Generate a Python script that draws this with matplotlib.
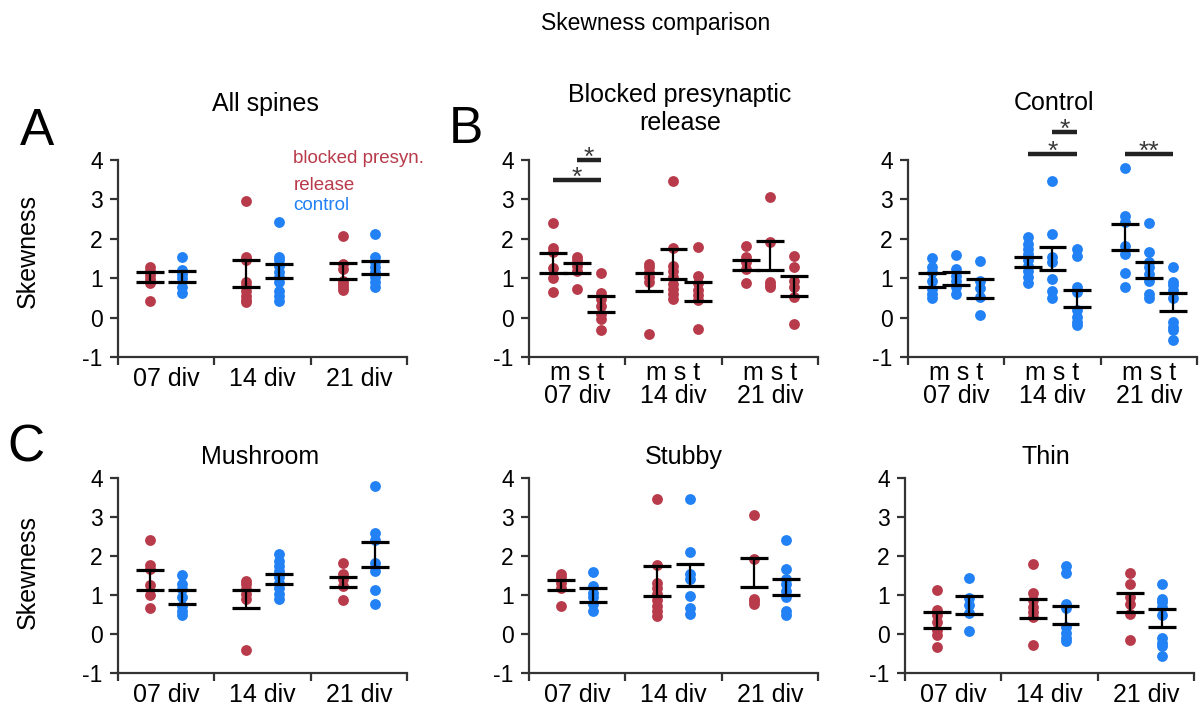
import matplotlib.pyplot as plt

plt.rcParams['font.family'] = ['Liberation Sans', 'DejaVu Sans']
plt.rcParams['axes.unicode_minus'] = False

RED = '#B83B4B'
BLUE = '#2181F5'
AXIS = '#333333'

divs = ['07 div', '14 div', '21 div']
div_mst = ['m s t\n07 div', 'm s t\n14 div', 'm s t\n21 div']

# all spines: one list of cultures per div
all_blocked = [[1.28, 1.18, 1.08, 0.98, 0.88, 0.43],
               [2.96, 1.53, 1.45, 0.9, 0.81, 0.68, 0.56, 0.45, 0.39],
               [2.07, 1.37, 1.24, 0.94, 0.86, 0.77, 0.69]]
all_blocked_mean = [1.025, 1.11, 1.175]
all_blocked_sem = [0.125, 0.34, 0.205]
all_control = [[1.53, 1.2, 1.1, 1.0, 0.78, 0.62],
               [2.43, 1.53, 1.45, 1.32, 1.15, 1.03, 0.9, 0.68, 0.56, 0.43],
               [2.13, 1.54, 1.41, 1.28, 1.15, 1.03, 0.9, 0.77]]
all_control_mean = [1.04, 1.185, 1.27]
all_control_sem = [0.14, 0.185, 0.16]

# blocked presynaptic release, per spine type (mushroom / stubby / thin)
blocked_m = [[2.41, 1.76, 1.67, 1.25, 1.0, 0.66],
             [1.37, 1.28, 1.15, 1.03, 0.9, -0.41],
             [1.81, 1.55, 1.42, 1.24, 0.87]]
blocked_m_mean = [1.385, 0.91, 1.34]
blocked_m_sem = [0.255, 0.23, 0.13]
blocked_s = [[1.53, 1.45, 1.3, 1.18, 0.72],
             [3.47, 1.76, 1.3, 1.18, 1.03, 0.86, 0.72, 0.6, 0.47],
             [3.05, 1.92, 0.9, 0.84, 0.78]]
blocked_s_mean = [1.26, 1.36, 1.58]
blocked_s_sem = [0.12, 0.38, 0.37]
blocked_t = [[1.12, 0.62, 0.48, 0.3, 0.1, -0.03, -0.32],
             [1.79, 1.06, 0.87, 0.7, 0.57, 0.44, -0.28],
             [1.57, 1.28, 0.94, 0.78, 0.52, -0.16]]
blocked_t_mean = [0.355, 0.665, 0.81]
blocked_t_sem = [0.205, 0.245, 0.25]

# control, per spine type
control_m = [[1.51, 1.28, 1.15, 0.94, 0.72, 0.6, 0.5],
             [2.04, 1.87, 1.74, 1.62, 1.45, 1.32, 1.19, 1.02, 0.89],
             [3.8, 2.58, 2.42, 1.82, 1.62, 1.12, 0.78]]
control_m_mean = [0.955, 1.42, 2.04]
control_m_sem = [0.175, 0.13, 0.33]
control_s = [[1.6, 1.23, 1.06, 0.94, 0.77, 0.6],
             [3.47, 2.11, 1.53, 1.4, 0.98, 0.68, 0.51],
             [2.4, 1.66, 1.4, 1.28, 1.11, 0.94, 0.6, 0.5]]
control_s_mean = [1.0, 1.51, 1.21]
control_s_sem = [0.17, 0.29, 0.21]
control_t = [[1.43, 0.92, 0.75, 0.53, 0.07],
             [1.75, 1.56, 0.78, 0.66, 0.19, 0.02, -0.1, -0.18],
             [1.28, 0.91, 0.83, 0.7, 0.49, -0.1, -0.23, -0.31, -0.57]]
control_t_mean = [0.74, 0.49, 0.40]
control_t_sem = [0.23, 0.22, 0.23]

HALF = 0.145


def style_axes(ax, labels, label_pad):
    ax.set_xlim(0, 3)
    ax.set_ylim(-1, 4)
    ax.spines[['top', 'right']].set_visible(False)
    for side in ('left', 'bottom'):
        ax.spines[side].set_color(AXIS)
        ax.spines[side].set_linewidth(1.6)
    ax.set_yticks(range(-1, 5))
    ax.set_xticks([0, 1, 2, 3])
    ax.set_xticklabels([])
    ax.set_xticks([0.5, 1.5, 2.5], minor=True)
    ax.set_xticklabels(labels, minor=True)
    ax.tick_params(axis='both', which='major', length=6, width=1.6, color=AXIS)
    ax.tick_params(axis='y', labelsize=16.5, pad=5)
    ax.tick_params(axis='x', which='minor', length=0, labelsize=18, pad=label_pad)
    for lbl in ax.get_xticklabels(minor=True):
        lbl.set_linespacing(0.92)


def draw_group(ax, x, vals, mean, sem, color):
    ax.plot([x] * len(vals), vals, 'o', ms=7.8, color=color, mec='none', zorder=2)
    ax.hlines([mean - sem, mean + sem], x - HALF, x + HALF, color='black', lw=2.3, zorder=3)
    ax.vlines(x, mean - sem, mean + sem, color='black', lw=1.6, zorder=3)


def sig_bar(ax, x0, x1, y, stars):
    ax.plot([x0, x1], [y, y], color='#222222', lw=3.2, solid_capstyle='butt', clip_on=False)
    ax.annotate(stars, ((x0 + x1) / 2, y), xytext=(0, -3.5), textcoords='offset points',
                ha='center', va='baseline', fontsize=19, color='#3a3a3a', annotation_clip=False)


fig = plt.figure(figsize=(12.02, 7.15), dpi=100)

left_cols = [0.0982, 0.4401, 0.7554]
top_b, top_h = 0.5007, 0.2755
bot_b, bot_h = 0.0587, 0.2727
W = 0.2404

# A: all spines
axA = fig.add_axes([left_cols[0], top_b, W, top_h])
style_axes(axA, divs, 7)
for i in range(3):
    draw_group(axA, i + 1 / 3, all_blocked[i], all_blocked_mean[i], all_blocked_sem[i], RED)
    draw_group(axA, i + 2 / 3, all_control[i], all_control_mean[i], all_control_sem[i], BLUE)
axA.text(1.82, 3.92, 'blocked presyn.', color=RED, fontsize=13.5)
axA.text(1.82, 3.23, 'release', color=RED, fontsize=13.5)
axA.text(1.82, 2.72, 'control', color=BLUE, fontsize=13.5)

# B: per spine type within each condition
axB = fig.add_axes([left_cols[1], top_b, W, top_h])
axCtl = fig.add_axes([left_cols[2], top_b, W, top_h])
for ax in (axB, axCtl):
    style_axes(ax, div_mst, 3)

blocked_sets = [(blocked_m, blocked_m_mean, blocked_m_sem),
                (blocked_s, blocked_s_mean, blocked_s_sem),
                (blocked_t, blocked_t_mean, blocked_t_sem)]
control_sets = [(control_m, control_m_mean, control_m_sem),
                (control_s, control_s_mean, control_s_sem),
                (control_t, control_t_mean, control_t_sem)]

for k, offset in enumerate([0.25, 0.5, 0.75]):
    vals, mean, sem = blocked_sets[k]
    for i in range(3):
        draw_group(axB, i + offset, vals[i], mean[i], sem[i], RED)
    vals, mean, sem = control_sets[k]
    for i in range(3):
        draw_group(axCtl, i + offset, vals[i], mean[i], sem[i], BLUE)

sig_bar(axB, 0.25, 0.75, 3.49, '*')
sig_bar(axB, 0.5, 0.75, 4.0, '*')
sig_bar(axCtl, 1.25, 1.75, 4.15, '*')
sig_bar(axCtl, 1.5, 1.75, 4.7, '*')
sig_bar(axCtl, 2.25, 2.75, 4.15, '**')

# C: blocked vs control for each spine type
bottom_lefts = [0.0982, 0.4401, 0.7529]
for j in range(3):
    ax = fig.add_axes([bottom_lefts[j], bot_b, W, bot_h])
    style_axes(ax, divs, 7)
    bvals, bmean, bsem = blocked_sets[j]
    cvals, cmean, csem = control_sets[j]
    for i in range(3):
        draw_group(ax, i + 1 / 3, bvals[i], bmean[i], bsem[i], RED)
        draw_group(ax, i + 2 / 3, cvals[i], cmean[i], csem[i], BLUE)

# titles and labels
fig.text(0.5458, 0.958, 'Skewness comparison', ha='center', va='baseline', fontsize=16.5)
fig.text(0.2205, 0.8448, 'All spines', ha='center', va='baseline', fontsize=18)
fig.text(0.5657, 0.818, 'Blocked presynaptic\nrelease', ha='center', va='baseline',
         fontsize=18, linespacing=1.2)
fig.text(0.877, 0.846, 'Control', ha='center', va='baseline', fontsize=18)
fig.text(0.216, 0.351, 'Mushroom', ha='center', va='baseline', fontsize=18)
fig.text(0.5687, 0.351, 'Stubby', ha='center', va='baseline', fontsize=18)
fig.text(0.870, 0.351, 'Thin', ha='center', va='baseline', fontsize=18)

fig.text(0.0166, 0.797, 'A', ha='left', va='baseline', fontsize=37)
fig.text(0.3735, 0.800, 'B', ha='left', va='baseline', fontsize=37)
fig.text(0.0058, 0.355, 'C', ha='left', va='baseline', fontsize=37)

fig.text(0.0229, 0.649, 'Skewness', rotation=90, ha='center', va='center', fontsize=18)
fig.text(0.0229, 0.200, 'Skewness', rotation=90, ha='center', va='center', fontsize=18)

fig.savefig('out.png', dpi=100)
